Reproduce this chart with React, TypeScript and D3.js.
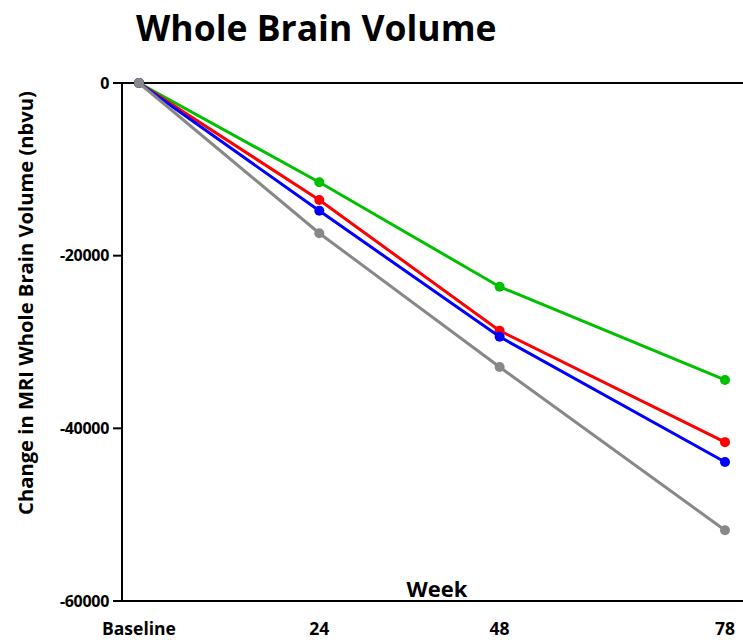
import React from "react";
import * as d3 from "d3";

const weeks = [0, 24, 48, 78];
const weekLabels = ["Baseline", "24", "48", "78"];
const greenValues = [0, -11500, -23600, -34400];
const redValues = [0, -13550, -28700, -41600];
const blueValues = [0, -14800, -29400, -43900];
const grayValues = [0, -17400, -32900, -51800];
const yTicks = [0, -20000, -40000, -60000];

const seriesList = [
  { name: "green", color: "#00c000", values: greenValues },
  { name: "red", color: "#ff0000", values: redValues },
  { name: "blue", color: "#0000ff", values: blueValues },
  { name: "gray", color: "#888888", values: grayValues },
];

const FONT = "'Open Sans', Lato, sans-serif";

export default function App() {
  const W = 743;
  const H = 640;
  const x = d3.scaleLinear().domain([0, 78]).range([139, 725]);
  const y = d3.scaleLinear().domain([-60000, 0]).range([601, 83]);
  const axisLeft = 122;
  const axisRight = 743;
  const line = d3
    .line<number>()
    .x((_, i) => x(weeks[i]))
    .y((v) => y(v));

  return (
    <svg
      width={W}
      height={H}
      style={{ position: "absolute", left: 0, top: 0, background: "#fff" }}
      fontFamily={FONT}
    >
      <text x={136} y={41} fontSize={35.5} fontWeight="bold" fill="#000">
        Whole Brain Volume
      </text>
      {/* axes */}
      <line x1={axisLeft} x2={axisLeft} y1={y(0) - 1} y2={y(-60000) + 1} stroke="#000" strokeWidth={2} />
      <line x1={axisLeft} x2={axisRight} y1={y(0)} y2={y(0)} stroke="#000" strokeWidth={2} />
      <line x1={axisLeft} x2={axisRight} y1={y(-60000)} y2={y(-60000)} stroke="#000" strokeWidth={2} />
      {yTicks.map((t) => (
        <g key={t}>
          <line x1={113} x2={axisLeft} y1={y(t)} y2={y(t)} stroke="#000" strokeWidth={2} />
          <text
            x={109}
            y={y(t)}
            dy="0.36em"
            textAnchor="end"
            fontSize={16}
            fontWeight="bold"
            letterSpacing={-0.3}
          >
            {t}
          </text>
        </g>
      ))}
      {weeks.map((w, i) => (
        <text
          key={w}
          x={x(w)}
          y={635}
          textAnchor="middle"
          fontSize={17.5}
          fontWeight="bold"
        >
          {weekLabels[i]}
        </text>
      ))}
      <text x={437} y={597} textAnchor="middle" fontSize={22} fontWeight="bold">
        Week
      </text>
      <text
        transform={`translate(33, ${(91 + 515) / 2}) rotate(-90)`}
        textAnchor="middle"
        fontSize={20.2}
        fontWeight="bold"
      >
        Change in MRI Whole Brain Volume (nbvu)
      </text>
      {seriesList.map((s) => (
        <g key={s.name}>
          <path d={line(s.values) || ""} fill="none" stroke={s.color} strokeWidth={3} />
          {s.values.map((v, i) => (
            <circle key={i} cx={x(weeks[i])} cy={y(v)} r={5} fill={s.color} />
          ))}
        </g>
      ))}
    </svg>
  );
}
